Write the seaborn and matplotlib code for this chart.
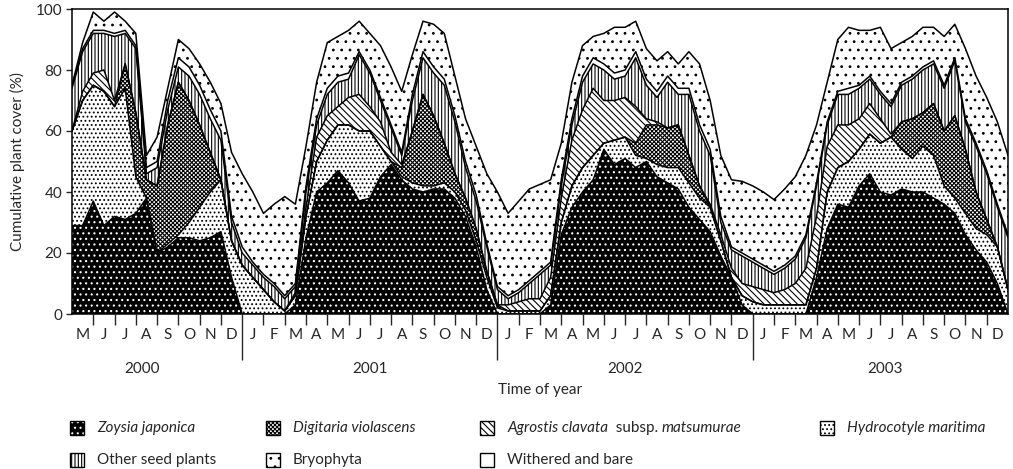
import numpy as np
import matplotlib
matplotlib.use("Agg")
import matplotlib.pyplot as plt
from matplotlib.patches import Rectangle
import seaborn as sns

# half-month samples, counted in months from 1 May 2000
months = np.arange(0, 44.5, 0.5)

# cumulative upper edge of each layer (%), bottom to top
zoysia_top = [29, 29, 37, 29, 32, 31, 33, 38, 20, 22, 25, 25, 24, 25, 27, 12, 0, 0, 0, 0,
              0, 3, 25, 40, 43, 47, 43, 37, 38, 45, 49, 44, 41, 40, 41, 41, 38, 32, 22, 8,
              0, 0, 0, 0, 0, 3, 26, 35, 40, 44, 54, 49, 51, 48, 50, 45, 43, 41, 35, 31,
              27, 19, 12, 3, 0, 0, 0, 0, 0, 0, 12, 28, 36, 35, 42, 46, 40, 39, 41, 40,
              40, 38, 36, 33, 26, 21, 17, 10, 0]
hydrocotyle_top = [60, 70, 75, 73, 68, 74, 45, 38, 20, 23, 26, 30, 35, 40, 44, 24, 16, 12, 8, 4,
                   1, 6, 32, 50, 57, 62, 62, 60, 60, 55, 50, 45, 43, 42, 42, 43, 40, 34, 24, 12,
                   2, 1, 1, 1, 1, 6, 30, 42, 48, 52, 56, 57, 58, 52, 51, 49, 48, 48, 43, 38,
                   35, 24, 12, 6, 4, 3, 3, 3, 3, 3, 15, 40, 48, 50, 54, 59, 56, 58, 54, 51,
                   55, 52, 42, 38, 33, 28, 26, 22, 8]
digitaria_top = [60, 70, 75, 73, 68, 82, 66, 44, 42, 62, 76, 70, 62, 53, 44, 24, 16, 12, 8, 4,
                 1, 6, 32, 50, 57, 62, 62, 60, 60, 55, 50, 48, 60, 72, 65, 56, 46, 38, 28, 14,
                 3, 1, 1, 1, 1, 6, 30, 42, 48, 52, 56, 57, 58, 56, 62, 62, 61, 62, 52, 42,
                 35, 24, 12, 6, 4, 3, 3, 3, 3, 3, 15, 40, 48, 50, 54, 59, 56, 58, 63, 64,
                 66, 69, 60, 65, 54, 40, 31, 22, 8]
agrostis_top = [60, 73, 79, 80, 70, 82, 66, 44, 42, 62, 76, 70, 62, 53, 44, 24, 16, 12, 8, 4,
                1, 7, 35, 58, 65, 68, 71, 72, 68, 63, 53, 49, 60, 72, 65, 56, 46, 38, 28, 14,
                3, 3, 4, 5, 5, 12, 38, 57, 67, 74, 70, 70, 71, 68, 64, 63, 61, 62, 52, 42,
                36, 26, 15, 10, 9, 8, 7, 8, 10, 15, 32, 55, 62, 62, 64, 69, 64, 59, 63, 64,
                66, 69, 60, 65, 54, 40, 31, 22, 8]
other_top = [74, 86, 92, 92, 91, 92, 87, 46, 48, 67, 81, 78, 72, 64, 57, 30, 20, 16, 12, 9,
             5, 9, 40, 62, 72, 76, 77, 85, 79, 70, 61, 52, 70, 84, 79, 75, 63, 48, 37, 22,
             8, 5, 7, 10, 13, 16, 42, 62, 76, 82, 80, 77, 78, 84, 75, 71, 76, 72, 72, 60,
             52, 30, 21, 19, 17, 15, 13, 15, 18, 25, 42, 62, 72, 72, 74, 77, 72, 68, 75, 77,
             80, 82, 74, 83, 63, 55, 46, 35, 25]
withered_top = [75, 87, 93, 93, 92, 93, 88, 48, 50, 70, 84, 81, 75, 67, 60, 32, 22, 17, 13, 10,
                6, 10, 42, 64, 74, 78, 79, 86, 80, 71, 62, 53, 72, 86, 81, 77, 65, 50, 39, 23,
                9, 6, 8, 11, 14, 17, 44, 64, 78, 84, 82, 79, 80, 86, 77, 73, 78, 74, 74, 62,
                54, 32, 22, 20, 18, 16, 14, 16, 19, 26, 43, 63, 73, 74, 75, 78, 73, 69, 76, 78,
                81, 83, 75, 84, 64, 56, 47, 36, 26]
bryophyta_top = [75, 89, 99, 96, 99, 96, 92, 52, 58, 74, 90, 87, 82, 76, 69, 53, 46, 40, 33, 36,
                 38.5, 36, 55, 76, 89, 91, 93, 96, 92, 88, 81, 73, 85, 96, 95, 92, 78, 64, 55, 46,
                 40, 33, 37, 41, 42.5, 44, 56, 76, 88, 91, 92, 94, 94, 96, 87, 83, 86, 82, 86, 82,
                 70, 52, 44, 43.5, 42, 40, 37.5, 41, 45, 52, 62, 76, 90, 94, 93, 93, 94, 87, 89, 91,
                 94, 94, 91, 95, 87, 78, 71, 63, 52]

layers = [
    ("Zoysia japonica", zoysia_top, "black", "white", "..."),
    ("Hydrocotyle maritima", hydrocotyle_top, "white", "black", "...."),
    ("Digitaria violascens", digitaria_top, "white", "black", "xxxxxxxx"),
    ("Agrostis clavata", agrostis_top, "white", "black", "\\\\\\\\\\"),
    ("Other seed plants", other_top, "white", "black", "|||||"),
    ("Withered and bare", withered_top, "white", "black", ""),
    ("Bryophyta", bryophyta_top, "white", "black", ".."),
]

month_letters = list("MJJASOND") + list("JFMAMJJASOND") * 3
years = ["2000", "2001", "2002", "2003"]
year_pos = [3.3, 14, 26, 38.2]

sns.set_style("ticks")
plt.rcParams["font.family"] = ["Lato", "DejaVu Sans"]
plt.rcParams["hatch.linewidth"] = 0.8

W, H = 1013, 469
fig = plt.figure(figsize=(W / 100, H / 100), dpi=100)
ax = fig.add_axes([72 / W, 1 - 314 / H, 936 / W, 305 / H])


def fx(px):
    return px / W


def fy(py):
    return 1 - py / H


lower = np.zeros(len(months))
for name, top, face, hcol, hatch in layers:
    top = np.asarray(top, dtype=float)
    ax.fill_between(months, lower, top, facecolor=face, edgecolor=hcol,
                    hatch=hatch, linewidth=0, zorder=1)
    lower = top

for name, top, face, hcol, hatch in layers:
    sns.lineplot(x=months, y=top, color="black", linewidth=1.1, ax=ax,
                 legend=False, zorder=3)

ax.set_xlim(0, 44)
ax.set_ylim(0, 100)
for s in ax.spines.values():
    s.set_visible(True)
    s.set_linewidth(1.1)
    s.set_color("black")
    s.set_zorder(4)

ax.set_yticks([0, 20, 40, 60, 80, 100])
ax.tick_params(axis="y", length=4, width=1, labelsize=11, pad=3)
month_ticks = [m for m in range(1, 44) if m not in (8, 20, 32)]
ax.set_xticks(month_ticks)
ax.set_xticklabels([])
ax.set_xticks([8, 20, 32], minor=True)
ax.tick_params(axis="x", which="major", length=8, width=1, direction="out")
ax.tick_params(axis="x", which="minor", length=33, width=1, direction="out")
ax.set_ylabel("Cumulative plant cover (%)", fontsize=11, labelpad=8)
ax.set_xlabel("")

xt = ax.get_xaxis_transform()
for i, letter in enumerate(month_letters):
    ax.text(i + 0.5, -0.068, letter, transform=xt, ha="center", va="center",
            fontsize=11)
for yr, pos in zip(years, year_pos):
    ax.text(pos, -0.18, yr, transform=xt, ha="center", va="center", fontsize=11)
fig.text(fx(540), fy(390), "Time of year", ha="center", va="center", fontsize=11)

# legend built by hand to follow the two-row layout
legend_items = [
    (70, 428, layers[0], [("Zoysia japonica", "italic")]),
    (266, 428, layers[2], [("Digitaria violascens", "italic")]),
    (480, 428, layers[3], [("Agrostis clavata", "italic"), ("  subsp. ", "normal"),
                           ("matsumurae", "italic")]),
    (820, 428, layers[1], [("Hydrocotyle maritima", "italic")]),
    (70, 460, layers[4], [("Other seed plants", "normal")]),
    (266, 460, layers[6], [("Bryophyta", "normal")]),
    (480, 460, layers[5], [("Withered and bare", "normal")]),
]
renderer = fig.canvas.get_renderer()
for px, py, layer, parts in legend_items:
    _, _, face, hcol, hatch = layer
    fig.patches.append(Rectangle((fx(px), fy(py + 7)), 14 / W, 14 / H,
                                 transform=fig.transFigure, facecolor=face,
                                 edgecolor=hcol, hatch=hatch, linewidth=0))
    fig.patches.append(Rectangle((fx(px), fy(py + 7)), 14 / W, 14 / H,
                                 transform=fig.transFigure, facecolor="none",
                                 edgecolor="black", linewidth=1.0))
    x0 = fx(px + 27)
    for txt, style in parts:
        t = fig.text(x0, fy(py), txt, ha="left", va="center", fontsize=11,
                     style=style)
        bb = t.get_window_extent(renderer=renderer)
        x0 += bb.width / W

fig.savefig("out.png", dpi=100)
